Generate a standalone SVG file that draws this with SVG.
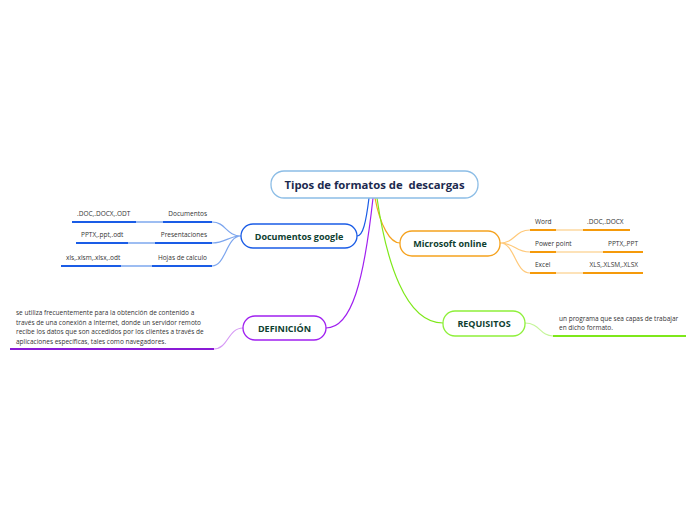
<svg xmlns="http://www.w3.org/2000/svg" width="696" height="520" viewBox="0 0 696 520">
<style>
.node{fill:#fff;stroke-width:1.3}
.t{font-family:"Open Sans","Liberation Sans",sans-serif;font-weight:bold;fill:#0e4030;text-anchor:middle}
.s{font-family:"Open Sans","Liberation Sans",sans-serif;font-size:6.5px;fill:#333}
.c{fill:none;stroke-width:1.2}
.u{fill:none;stroke-width:2}
</style>
<rect width="696" height="520" fill="#fff"/>
<g id="connectors">
<path class="c" stroke="#1a5ce6" d="M369,198 C366,222 363,236 357,236"/>
<path class="c" stroke="#a020f0" stroke-width="1.6" d="M373,198 C364,280 352,328 326,328"/>
<path class="c" stroke="#f5a21e" d="M375,198 C380,225 390,243 400,243"/>
<path class="c" stroke="#7ee81a" stroke-width="1.6" d="M377,198 C386,260 405,323 443,323"/>
<path class="c" stroke="#7da6ee" d="M241,236 C226,236 226,222 212,222 M241,236 C228,236 226,243 212,243 M241,236 C226,236 226,266 212,266"/>
<path class="c" stroke="#ffc97a" d="M500,243 C515,243 515,230 530,230 M500,243 C515,243 515,252 530,252 M500,243 C515,243 515,273 530,273"/>
<path class="c" stroke="#d69af5" d="M243,328 C228,328 228,349 214,349"/>
<path class="c" stroke="#c5f59a" d="M525,323 C540,323 540,336 553,336"/>
</g>
<g id="central">
<rect class="node" x="271" y="171" width="207" height="27" rx="13" stroke="#8cbde6"/>
<text class="t" x="374.5" y="189" font-size="11.3" style="fill:#1c2a4f;white-space:pre" xml:space="preserve">Tipos de formatos de  descargas</text>
</g>
<g id="documentos-google">
<rect class="node" x="241" y="224" width="116" height="24" rx="12" stroke="#1a5ce6"/>
<text class="t" x="299" y="239.5" font-size="9">Documentos google</text>
</g>
<g id="doc-documentos">
<path class="u" stroke="#1a5ce6" d="M72,222 H136 M163,222 H212"/>
<path class="u" stroke="#9dbdf2" d="M136,222 H163"/>
<text class="s" x="77" y="216">.DOC,.DOCX,.ODT</text>
<text class="s" x="207" y="216" text-anchor="end">Documentos</text>
</g>
<g id="doc-presentaciones">
<path class="u" stroke="#1a5ce6" d="M76,243 H128 M155,243 H212"/>
<path class="u" stroke="#9dbdf2" d="M128,243 H155"/>
<text class="s" x="81" y="237">PPTX,.ppt,.odt</text>
<text class="s" x="207" y="237" text-anchor="end">Presentaciones</text>
</g>
<g id="doc-hojas">
<path class="u" stroke="#1a5ce6" d="M61,266 H121 M152,266 H212"/>
<path class="u" stroke="#9dbdf2" d="M121,266 H152"/>
<text class="s" x="66" y="260">xls,.xlsm,.xlsx,.odt</text>
<text class="s" x="207" y="260" text-anchor="end">Hojas de calculo</text>
</g>
<g id="microsoft-online">
<rect class="node" x="400" y="231" width="100" height="25" rx="12" stroke="#f5a21e"/>
<text class="t" x="450" y="246.5" font-size="9">Microsoft online</text>
</g>
<g id="ms-word">
<path class="u" stroke="#f59a0a" d="M530,230 H556 M583,230 H630"/>
<path class="u" stroke="#fde2b8" d="M556,230 H583"/>
<text class="s" x="535" y="224">Word</text>
<text class="s" x="587" y="224">.DOC,.DOCX</text>
</g>
<g id="ms-powerpoint">
<path class="u" stroke="#f59a0a" d="M530,252 H556 M603,252 H643"/>
<path class="u" stroke="#fde2b8" d="M556,252 H603"/>
<text class="s" x="535" y="246">Power point</text>
<text class="s" x="638" y="246" text-anchor="end">PPTX,.PPT</text>
</g>
<g id="ms-excel">
<path class="u" stroke="#f59a0a" d="M530,273 H556 M583,273 H643"/>
<path class="u" stroke="#fde2b8" d="M556,273 H583"/>
<text class="s" x="535" y="267">Excel</text>
<text class="s" x="638" y="267" text-anchor="end">XLS,.XLSM,.XLSX</text>
</g>
<g id="definicion">
<rect class="node" x="243" y="316" width="83" height="24" rx="12" stroke="#a020f0"/>
<text class="t" x="284.5" y="331.5" font-size="9">DEFINICIÓN</text>
</g>
<g id="definicion-text">
<path class="u" stroke="#8a1ad6" d="M10,349 H214"/>
<text class="s"><tspan x="16" y="315">se utiliza frecuentemente para la obtención de contenido a</tspan><tspan x="16" y="324.5">través de una conexión a Internet, donde un servidor remoto</tspan><tspan x="16" y="334">recibe los datos que son accedidos por los clientes a través de</tspan><tspan x="16" y="343.5">aplicaciones específicas, tales como navegadores.</tspan></text>
</g>
<g id="requisitos">
<rect class="node" x="443" y="311" width="82" height="25" rx="12" stroke="#8ef03a"/>
<text class="t" x="484" y="326.5" font-size="9">REQUISITOS</text>
</g>
<g id="requisitos-text">
<path class="u" stroke="#7ee81a" d="M553,336 H686"/>
<text class="s"><tspan x="559" y="320.5">un programa que sea capas de trabajar</tspan><tspan x="559" y="329.5">en dicho formato.</tspan></text>
</g>
</svg>
